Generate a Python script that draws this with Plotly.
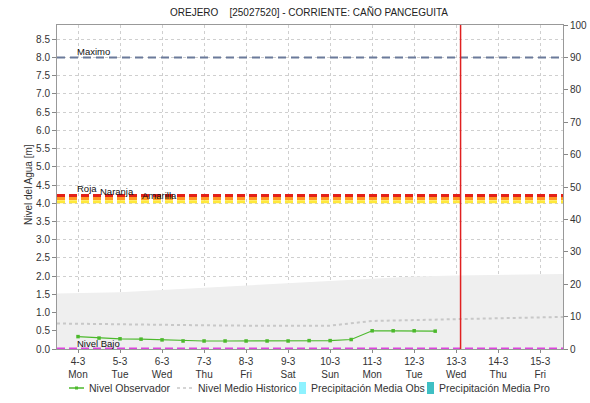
import plotly.graph_objects as go

# --- Observed water level (every 12 h) ---
obs_times = [
    "2024-03-04 00:00", "2024-03-04 12:00", "2024-03-05 00:00", "2024-03-05 12:00",
    "2024-03-06 00:00", "2024-03-06 12:00", "2024-03-07 00:00", "2024-03-07 12:00",
    "2024-03-08 00:00", "2024-03-08 12:00", "2024-03-09 00:00", "2024-03-09 12:00",
    "2024-03-10 00:00", "2024-03-10 12:00", "2024-03-11 00:00", "2024-03-11 12:00",
    "2024-03-12 00:00", "2024-03-12 12:00",
]
obs_level = [0.34, 0.30, 0.28, 0.27, 0.25, 0.22, 0.22, 0.22,
             0.22, 0.22, 0.22, 0.23, 0.23, 0.26, 0.50, 0.50,
             0.50, 0.49]

# --- Historical mean level (daily) ---
hist_days = ["2024-03-03 12:00", "2024-03-04", "2024-03-05", "2024-03-06", "2024-03-07",
             "2024-03-08", "2024-03-09", "2024-03-10", "2024-03-11", "2024-03-12",
             "2024-03-13", "2024-03-14", "2024-03-15", "2024-03-15 13:00"]
hist_mean = [0.70, 0.69, 0.68, 0.66, 0.65, 0.64, 0.64, 0.64, 0.77, 0.79,
             0.82, 0.83, 0.86, 0.88]

# --- Historical range band (upper limit) ---
band_days = hist_days
band_upper = [1.52, 1.53, 1.56, 1.62, 1.68, 1.74, 1.80, 1.86, 1.93, 1.99,
              2.02, 2.04, 2.06, 2.06]

# --- Mean precipitation (mm) ---
precip_days = ["2024-03-04", "2024-03-05", "2024-03-06", "2024-03-07", "2024-03-08",
               "2024-03-09", "2024-03-10", "2024-03-11", "2024-03-12", "2024-03-13",
               "2024-03-14", "2024-03-15"]
precip_obs = [0, 0, 0, 0, 0, 0, 0, 0, 0, 0, 0, 0]
precip_pro = [0, 0, 0, 0, 0, 0, 0, 0, 0, 0, 0, 0]

# --- Alert thresholds (m) ---
level_max = 8.0
level_roja = 4.21
level_naranja = 4.13
level_amarilla = 4.04
level_bajo = 0.0
now_time = "2024-03-13 02:30"

# --- X axis ticks ---
tick_days = ["2024-03-04", "2024-03-05", "2024-03-06", "2024-03-07", "2024-03-08",
             "2024-03-09", "2024-03-10", "2024-03-11", "2024-03-12", "2024-03-13",
             "2024-03-14", "2024-03-15"]
tick_text = ["4-3<br>Mon", "5-3<br>Tue", "6-3<br>Wed", "7-3<br>Thu", "8-3<br>Fri",
             "9-3<br>Sat", "10-3<br>Sun", "11-3<br>Mon", "12-3<br>Tue", "13-3<br>Wed",
             "14-3<br>Thu", "15-3<br>Fri"]

FONT = "Arial, Liberation Sans, sans-serif"
GREEN = "#4cb92c"
HIST = "#c8c8c8"
CYAN = "#8ef2ff"
TEAL = "#3fbfc4"

# plot-area geometry (pixels)
W, H = 590, 403
ML, MR, MT, MB = 57, 27, 25, 54
PW, PH = W - ML - MR, H - MT - MB


def px_x(px):
    return (px - ML) / PW


def px_y(py):
    return (H - MB - py) / PH


fig = go.Figure()

fig.add_trace(go.Scatter(
    x=band_days, y=band_upper, mode="lines", fill="tozeroy",
    line=dict(width=0, color="#efefef"), fillcolor="#efefef",
    showlegend=False, hoverinfo="skip",
))

fig.add_trace(go.Scatter(
    x=obs_times, y=obs_level, mode="lines+markers", name="Nivel Observador",
    line=dict(color=GREEN, width=1.2),
    marker=dict(symbol="square", size=3.5, color=GREEN), showlegend=False,
))

fig.add_trace(go.Scatter(
    x=hist_days, y=hist_mean, mode="lines", name="Nivel Medio Historico",
    line=dict(color=HIST, width=2, dash="dot"), showlegend=False,
))

fig.add_trace(go.Bar(
    x=precip_days, y=precip_obs, name="Precipitación Media Obs",
    marker=dict(color=CYAN), yaxis="y2", showlegend=False,
))
fig.add_trace(go.Bar(
    x=precip_days, y=precip_pro, name="Precipitación Media Pro",
    marker=dict(color=TEAL), yaxis="y2", showlegend=False,
))


# threshold lines
def hline(y, color, width, dash):
    fig.add_shape(type="line", xref="paper", x0=0, x1=1, yref="y", y0=y, y1=y,
                  line=dict(color=color, width=width, dash=dash), layer="above")


hline(level_max, "#6b7a9a", 2, "8px,5px")
hline(level_amarilla, "#ffe83a", 3, "8px,4px")
hline(level_naranja, "#ff9a22", 3, "8px,4px")
hline(level_roja, "#e32018", 3, "8px,4px")
hline(level_bajo, "#dd44dd", 3, "8px,4px")

fig.add_shape(type="line", xref="x", x0=now_time, x1=now_time, yref="paper", y0=0, y1=1,
              line=dict(color="#e02020", width=1.5), layer="above")

# threshold labels
lab_font = dict(family=FONT, size=9.5, color="#111111")
labels = [
    ("Maximo", "2024-03-04 00:00", level_max, 6),
    ("Roja", "2024-03-04 00:00", level_roja, 7),
    ("Naranja", "2024-03-04 13:00", level_naranja, 7),
    ("Amarilla", "2024-03-05 13:00", level_amarilla, 6),
    ("Nivel Bajo", "2024-03-04 00:00", level_bajo, 6),
]
for txt, xv, yv, ys in labels:
    fig.add_annotation(x=xv, y=yv, xref="x", yref="y", text=txt, showarrow=False,
                       xanchor="left", yanchor="middle", yshift=ys, xshift=-3,
                       font=lab_font)

# axis titles
fig.add_annotation(x=px_x(28), y=px_y(185), xref="paper", yref="paper",
                   text="Nivel del Agua [m]", textangle=-90, showarrow=False,
                   xanchor="center", yanchor="middle",
                   font=dict(family=FONT, size=10, color="#333333"))
fig.add_annotation(x=px_x(587), y=px_y(160), xref="paper", yref="paper",
                   text="Precipitación [mm]", textangle=-90, showarrow=False,
                   xanchor="left", yanchor="middle",
                   font=dict(family=FONT, size=10, color="#333333"))

# legend row under the chart
LEG_Y = 388
leg_font = dict(family=FONT, size=10.5, color="#333333")
fig.add_shape(type="line", xref="paper", yref="paper",
              x0=px_x(69), x1=px_x(84), y0=px_y(LEG_Y), y1=px_y(LEG_Y),
              line=dict(color=GREEN, width=1.5))
fig.add_shape(type="rect", xref="paper", yref="paper",
              x0=px_x(75), x1=px_x(78), y0=px_y(LEG_Y + 1.5), y1=px_y(LEG_Y - 1.5),
              line=dict(width=0), fillcolor=GREEN)
fig.add_shape(type="line", xref="paper", yref="paper",
              x0=px_x(177), x1=px_x(193), y0=px_y(LEG_Y), y1=px_y(LEG_Y),
              line=dict(color=HIST, width=1.5, dash="3px,3px"))
fig.add_shape(type="rect", xref="paper", yref="paper",
              x0=px_x(299), x1=px_x(306), y0=px_y(LEG_Y + 6), y1=px_y(LEG_Y - 6),
              line=dict(width=0), fillcolor=CYAN)
fig.add_shape(type="rect", xref="paper", yref="paper",
              x0=px_x(427), x1=px_x(434), y0=px_y(LEG_Y + 6), y1=px_y(LEG_Y - 6),
              line=dict(width=0), fillcolor=TEAL)
for txt, lx in [("Nivel Observador", 87), ("Nivel Medio Historico", 196),
                ("Precipitación Media Obs", 309), ("Precipitación Media Pro", 437)]:
    fig.add_annotation(x=px_x(lx), y=px_y(LEG_Y), xref="paper", yref="paper", text=txt,
                       showarrow=False, xanchor="left", yanchor="middle", font=leg_font)

fig.update_layout(
    width=W, height=H,
    margin=dict(l=ML, r=MR, t=MT, b=MB, autoexpand=False),
    paper_bgcolor="white", plot_bgcolor="white",
    font=dict(family=FONT, size=10, color="#333333"),
    title=dict(text="OREJERO    [25027520] - CORRIENTE: CAÑO PANCEGUITA",
               x=309 / W, xanchor="center", y=1 - 12 / H, yanchor="middle",
               font=dict(family=FONT, size=10, color="#222222")),
    showlegend=False,
    barmode="group",
    xaxis=dict(
        type="date", range=["2024-03-03 12:00", "2024-03-15 13:00"],
        tickmode="array", tickvals=tick_days, ticktext=tick_text,
        showgrid=True, gridcolor="#cfcfcf", griddash="dot", gridwidth=1,
        showline=True, linecolor="#999999", mirror=True,
        ticks="outside", ticklen=3, tickcolor="#888888",
        zeroline=False, tickfont=dict(size=10, color="#333333"),
    ),
    yaxis=dict(
        range=[0, 8.89], tickmode="linear", tick0=0, dtick=0.5, tickformat=".1f",
        showgrid=True, gridcolor="#cfcfcf", griddash="dot", gridwidth=1,
        showline=True, linecolor="#999999",
        ticks="outside", ticklen=4, tickcolor="#888888",
        zeroline=False, tickfont=dict(size=10, color="#333333"),
    ),
    yaxis2=dict(
        overlaying="y", side="right", range=[0, 100], tickmode="linear", tick0=0, dtick=10,
        showgrid=False, showline=True, linecolor="#999999",
        ticks="outside", ticklen=4, tickcolor="#888888",
        zeroline=False, tickfont=dict(size=10, color="#333333"),
    ),
)

fig.write_html("out.html")
